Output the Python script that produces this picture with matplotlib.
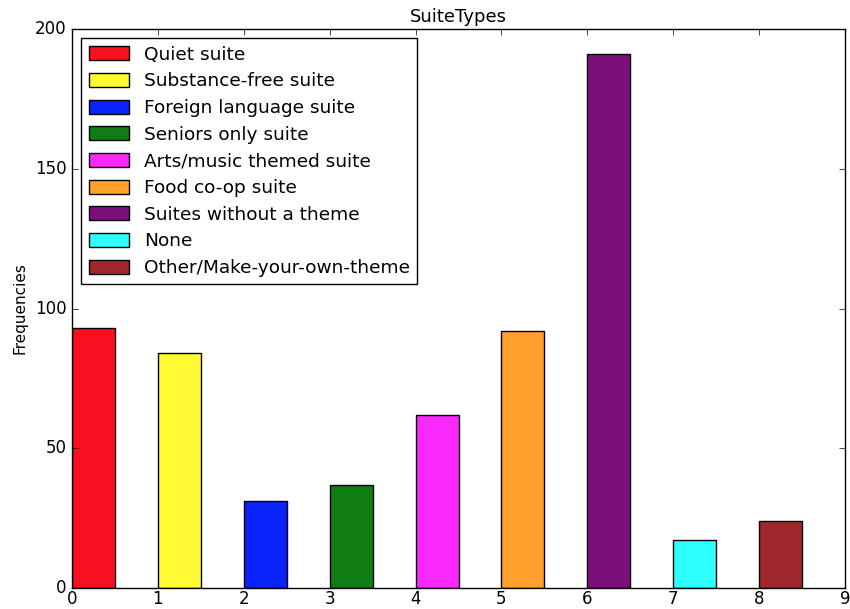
import numpy as np
import matplotlib
matplotlib.use('Agg')
import matplotlib.pyplot as plt

# suite type counts
suite_types = ['Quiet suite', 'Substance-free suite', 'Foreign language suite',
               'Seniors only suite', 'Arts/music themed suite', 'Food co-op suite',
               'Suites without a theme', 'None', 'Other/Make-your-own-theme']
frequencies = [93, 84, 31, 37, 62, 92, 191, 17, 24]
bar_colors = ['#fa0f1e', '#fffa32', '#0a23fa', '#0f7d14', '#fa28fa',
              '#ffa02d', '#7d0f7d', '#2dffff', '#a0282d']

plt.style.use('classic')

fig = plt.figure(figsize=(8.5, 6.09), dpi=100, facecolor='white')
ax = fig.add_axes([72 / 850, 1 - 588 / 609, 773 / 850, 559 / 609])

positions = np.arange(len(frequencies))
for pos, val, col, name in zip(positions, frequencies, bar_colors, suite_types):
    ax.bar(pos, val, width=0.5, align='edge', color=col,
           edgecolor='black', linewidth=1, label=name)

ax.set_xlim(0, 9)
ax.set_ylim(0, 200)
ax.set_xticks(range(0, 10))
ax.set_yticks([0, 50, 100, 150, 200])
ax.tick_params(labelsize=12)
ax.tick_params(axis='x', pad=1.5)
ax.set_title('SuiteTypes', fontsize=13)
ax.set_ylabel('Frequencies', fontsize=11)

ax.legend(loc='upper left', fontsize=13.3, handlelength=2.2, handleheight=0.8,
          labelspacing=0.47, borderaxespad=0.5, fancybox=False)

fig.savefig('out.png', dpi=100, facecolor='white')
